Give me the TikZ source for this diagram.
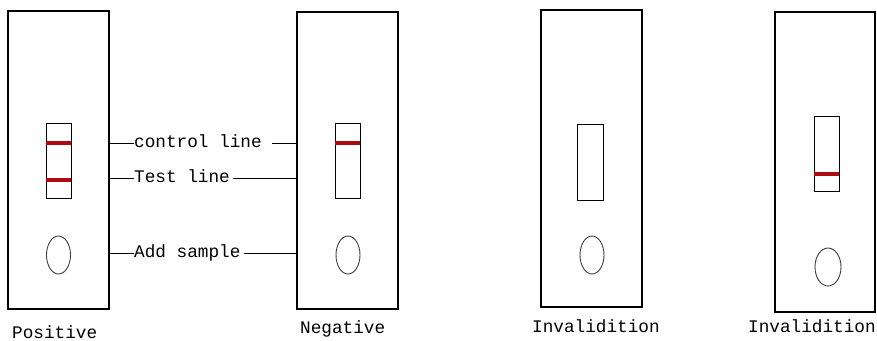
\documentclass[tikz,border=0pt]{standalone}
\usepackage{fontspec}
\usetikzlibrary{shapes.geometric}
\newfontfamily\monofont{Liberation Mono}
\newcommand{\lblfont}{\monofont\fontsize{17.7}{20}\selectfont}
\definecolor{bandred}{RGB}{175, 10, 15}
\definecolor{ringgray}{RGB}{60, 60, 60}

\begin{document}
\begin{tikzpicture}[x=1pt, y=-1pt,
        strip/.style={rectangle, draw=black, line width=1.3pt, inner sep=0pt, minimum width=101pt, minimum height=298pt},
        window/.style={rectangle, draw=black, line width=1pt, inner sep=0pt, minimum width=25pt, minimum height=75pt},
        band/.style={rectangle, fill=bandred, inner sep=0pt, minimum width=25pt, minimum height=4pt},
        sample/.style={ellipse, draw=ringgray, line width=0.9pt, inner sep=0pt, minimum width=24pt, minimum height=38pt},
        tag/.style={anchor=west, inner sep=0pt, text height=8pt, text depth=0pt, font=\lblfont},
        caption/.style={anchor=base west, inner sep=0pt, font=\lblfont},
        lead/.style={line width=1pt, black}
      ]
        \useasboundingbox (0,0) rectangle (877,340);

        % test strips
        \node[strip] at (58.5, 160)   (pos)  {};
        \node[strip, minimum height=297pt] at (347.5, 160.5) (neg)  {};
        \node[strip, minimum height=297pt] at (591.5, 158.5) (inv1) {};
        \node[strip, minimum width=100pt, minimum height=300pt] at (825, 162) (inv2) {};

        % result windows
        \node[window] at (58.5, 160.5)  (posw)  {};
        \node[window] at (347.5, 160.5) (negw)  {};
        \node[window, minimum width=26pt, minimum height=76pt] at (590, 162) (inv1w) {};
        \node[window] at (826.5, 153.5) (inv2w) {};

        \node[band] at (58.5, 143)  (posc) {};
        \node[band] at (58.5, 180)  (post) {};
        \node[band] at (347.5, 143) (negc) {};
        \node[band] at (826.5, 174) (inv2t) {};

        % sample wells
        \node[sample] at (58.5, 255) (poss)  {};
        \node[sample] at (348, 255)  (negs)  {};
        \node[sample] at (592, 255)  (inv1s) {};
        \node[sample, minimum width=26pt] at (828, 267) (inv2s) {};

        % labels between the first two strips
        \node[tag] at (134, 143) (ctl) {control line};
        \node[tag] at (134, 178) (tst) {Test line};
        \node[tag] at (134, 253) (add) {Add sample};

        \draw[lead] (ctl.west -| pos.east) -- (ctl.west);
        \draw[lead] ([xshift=10pt]ctl.east) -- (ctl.east -| neg.west);
        \draw[lead] (tst.west -| pos.east) -- (tst.west);
        \draw[lead] ([xshift=3pt]tst.east) -- (tst.east -| neg.west);
        \draw[lead] (add.west -| pos.east) -- (add.west);
        \draw[lead] ([xshift=3pt]add.east) -- (add.east -| neg.west);

        % captions
        \node[caption] at (12, 338)  (posl)  {Positive};
        \node[caption] at (300, 333) (negl)  {Negative};
        \node[caption] at (532, 332) (inv1l) {Invalidition};
        \node[caption] at (748, 332) (inv2l) {Invalidition};
      \end{tikzpicture}
\end{document}
